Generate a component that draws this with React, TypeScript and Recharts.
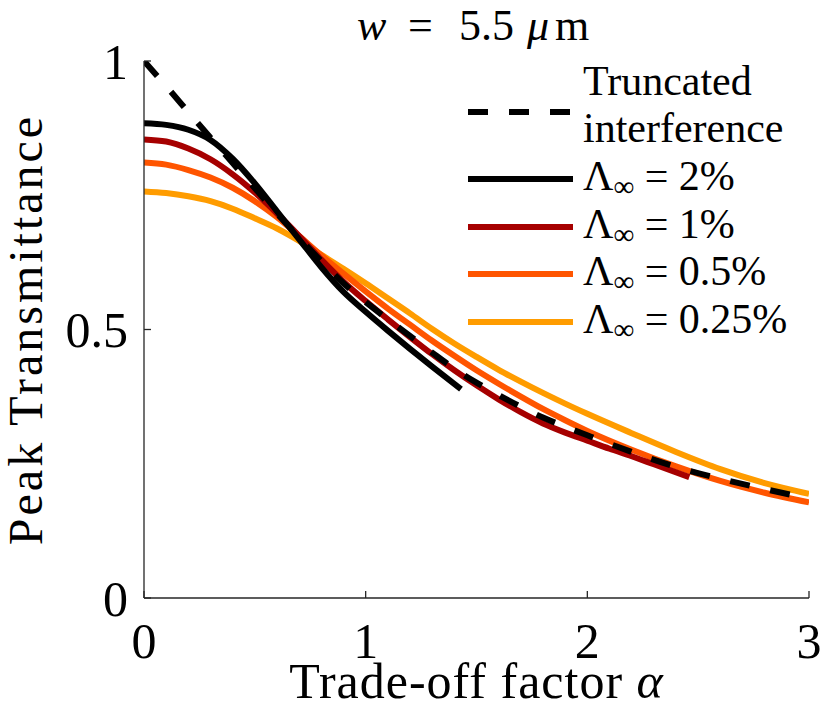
import { LineChart, Line, XAxis, YAxis, Legend, Label } from "recharts";

// alpha grids (trade-off factor) and peak transmittance
const alphaFull = [0, 0.1, 0.2, 0.3, 0.4, 0.5, 0.6, 0.7, 0.8, 0.9, 1.0, 1.1, 1.2, 1.3, 1.4, 1.5, 1.6, 1.7, 1.8, 1.9, 2.0, 2.2, 2.4, 2.6, 2.8, 3.0];
const truncated = [1.0, 0.953, 0.905, 0.857, 0.81, 0.763, 0.716, 0.671, 0.627, 0.586, 0.551, 0.519, 0.488, 0.457, 0.427, 0.401, 0.378, 0.356, 0.336, 0.319, 0.303, 0.272, 0.244, 0.222, 0.203, 0.185];
const lambdaHalf = [0.811, 0.807, 0.797, 0.783, 0.764, 0.739, 0.709, 0.674, 0.638, 0.604, 0.571, 0.539, 0.509, 0.479, 0.451, 0.424, 0.399, 0.375, 0.352, 0.331, 0.311, 0.276, 0.245, 0.218, 0.196, 0.178];
const lambdaQuarter = [0.757, 0.754, 0.748, 0.739, 0.725, 0.707, 0.688, 0.665, 0.639, 0.613, 0.586, 0.558, 0.53, 0.501, 0.474, 0.449, 0.425, 0.403, 0.382, 0.362, 0.343, 0.307, 0.272, 0.24, 0.214, 0.194];

const alpha2 = [0, 0.1, 0.2, 0.3, 0.4, 0.5, 0.6, 0.7, 0.8, 0.9, 1.0, 1.1, 1.2, 1.3, 1.43];
const lambda2 = [0.884, 0.881, 0.872, 0.853, 0.818, 0.772, 0.72, 0.668, 0.616, 0.57, 0.533, 0.498, 0.464, 0.431, 0.389];

const alpha1 = [0, 0.1, 0.2, 0.3, 0.4, 0.5, 0.6, 0.7, 0.8, 0.9, 1.0, 1.1, 1.2, 1.3, 1.4, 1.5, 1.6, 1.7, 1.8, 1.9, 2.0, 2.1, 2.2, 2.3, 2.46];
const lambda1 = [0.854, 0.85, 0.837, 0.817, 0.789, 0.755, 0.716, 0.674, 0.63, 0.589, 0.553, 0.519, 0.486, 0.454, 0.424, 0.396, 0.37, 0.346, 0.325, 0.308, 0.293, 0.278, 0.264, 0.249, 0.225];

const xTicks = [0, 1, 2, 3];
const yTicks = [0, 0.5, 1];

const zip = (xs: number[], ys: number[]) => xs.map((a, i) => ({ alpha: a, t: ys[i] }));

const series = [
  { key: "trunc", name: "Truncated interference", color: "#000000", dash: "20 21", data: zip(alphaFull, truncated), pct: "" },
  { key: "l2", name: "Λ∞ = 2%", color: "#000000", dash: undefined, data: zip(alpha2, lambda2), pct: "2%" },
  { key: "l1", name: "Λ∞ = 1%", color: "#a60000", dash: undefined, data: zip(alpha1, lambda1), pct: "1%" },
  { key: "l05", name: "Λ∞ = 0.5%", color: "#ff5500", dash: undefined, data: zip(alphaFull, lambdaHalf), pct: "0.5%" },
  { key: "l025", name: "Λ∞ = 0.25%", color: "#ff9c00", dash: undefined, data: zip(alphaFull, lambdaQuarter), pct: "0.25%" },
];

// draw order: lightest first, dashed on top
const drawOrder = ["l025", "l05", "l1", "l2", "trunc"];

const FONT = "'Liberation Serif', 'Times New Roman', serif";
const AXIS = "#262626";
const rowY = [72, 139, 187, 234, 282];

function LegendBox() {
  return (
    <svg width={354} height={310} style={{ display: "block" }}>
      {series.map((s, i) => {
        const cy = rowY[i];
        return (
          <g key={s.key} fontFamily={FONT} fontSize={42} fill="#000">
            <line x1={0} x2={105} y1={cy} y2={cy} stroke={s.color} strokeWidth={6} strokeDasharray={s.dash} />
            {i === 0 ? (
              <>
                <text x={115} y={cy - 17}>Truncated</text>
                <text x={115} y={cy + 30}>interference</text>
              </>
            ) : (
              <text x={115} y={cy + 11}>
                Λ<tspan fontSize={29} dy={6}>∞</tspan>
                <tspan dy={-6}>{" = " + s.pct}</tspan>
              </text>
            )}
          </g>
        );
      })}
    </svg>
  );
}

function XTitle(props: any) {
  const vb = props.viewBox;
  return (
    <text x={vb.x + vb.width / 2} y={vb.y + vb.height - 22} textAnchor="middle" fontFamily={FONT} fontSize={50} fill="#000" letterSpacing={1}>
      Trade-off factor <tspan fontStyle="italic">α</tspan>
    </text>
  );
}

function YTitle(props: any) {
  const vb = props.viewBox;
  const cx = vb.x + 42;
  const cy = vb.y + vb.height / 2;
  return (
    <text x={cx} y={cy} transform={`rotate(-90 ${cx} ${cy})`} textAnchor="middle" fontFamily={FONT} fontSize={48} fill="#000" letterSpacing={3}>
      Peak Transmittance
    </text>
  );
}

export default function App() {
  const tickStyle = { fontSize: 50, fontFamily: FONT, fill: "#000" };
  const blank = () => "";
  return (
    <div style={{ position: "relative", width: 822, height: 720 }}>
      <style>{"body{margin:0}"}</style>
      <LineChart width={822} height={720} margin={{ top: 61, right: 13, bottom: 0, left: 0 }}>
        <XAxis
          xAxisId="b"
          type="number"
          dataKey="alpha"
          domain={[0, 3]}
          ticks={xTicks}
          interval={0}
          allowDataOverflow
          height={122}
          tickSize={-7}
          tickMargin={31}
          tick={tickStyle}
          axisLine={{ stroke: AXIS, strokeWidth: 1.3 }}
          tickLine={{ stroke: AXIS, strokeWidth: 1.3 }}
        >
          <Label content={XTitle} />
        </XAxis>
        <XAxis
          xAxisId="t"
          orientation="top"
          type="number"
          dataKey="alpha"
          domain={[0, 3]}
          ticks={xTicks}
          interval={0}
          allowDataOverflow
          height={0}
          tickSize={-7}
          tickFormatter={blank}
          axisLine={{ stroke: AXIS, strokeWidth: 1.3 }}
          tickLine={{ stroke: AXIS, strokeWidth: 1.3 }}
        />
        <YAxis
          yAxisId="l"
          type="number"
          domain={[0, 1]}
          ticks={yTicks}
          interval={0}
          allowDataOverflow
          width={144}
          tickSize={-7}
          tickMargin={23}
          tick={tickStyle}
          axisLine={{ stroke: AXIS, strokeWidth: 1.3 }}
          tickLine={{ stroke: AXIS, strokeWidth: 1.3 }}
        >
          <Label content={YTitle} />
        </YAxis>
        <YAxis
          yAxisId="r"
          orientation="right"
          type="number"
          domain={[0, 1]}
          ticks={yTicks}
          interval={0}
          allowDataOverflow
          width={0}
          tickSize={-7}
          tickFormatter={blank}
          axisLine={{ stroke: AXIS, strokeWidth: 1.3 }}
          tickLine={{ stroke: AXIS, strokeWidth: 1.3 }}
        />
        {drawOrder.map((k) => {
          const s = series.find((d) => d.key === k)!;
          return (
            <Line
              key={s.key}
              xAxisId="b"
              yAxisId="l"
              data={s.data}
              dataKey="t"
              name={s.name}
              type="monotone"
              stroke={s.color}
              strokeWidth={6}
              strokeDasharray={s.dash}
              dot={false}
              activeDot={false}
              isAnimationActive={false}
            />
          );
        })}
        <Legend
          layout="vertical"
          align="center"
          verticalAlign="middle"
          content={LegendBox}
          wrapperStyle={{ left: 468, top: 40, width: 354, height: 310 }}
        />
      </LineChart>
      <svg width={822} height={70} style={{ position: "absolute", left: 0, top: 0, pointerEvents: "none" }}>
        <text y={40} fontFamily={FONT} fontSize={44} fill="#000">
          <tspan x={357} fontStyle="italic">w</tspan>
          <tspan x={408}>=</tspan>
          <tspan x={459}>5.5</tspan>
          <tspan x={527} fontStyle="italic">μ</tspan>
          <tspan x={555}>m</tspan>
        </text>
      </svg>
    </div>
  );
}
